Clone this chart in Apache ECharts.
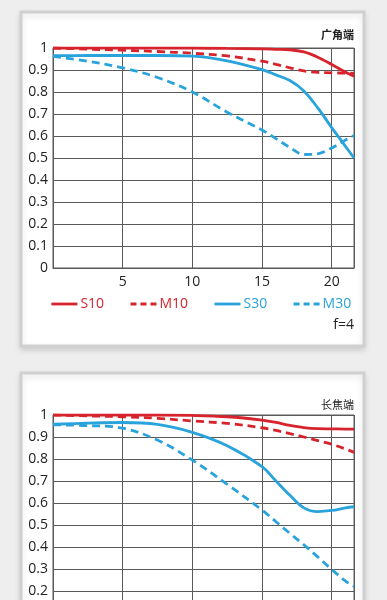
<!DOCTYPE html>
<html>
<head>
<meta charset="utf-8">
<script src="https://cdn.jsdelivr.net/npm/echarts@6/dist/echarts.min.js"></script>
<style>
html,body{margin:0;padding:0;overflow:hidden;background:#eeeeee;}
#c{width:387px;height:700px;}
</style>
</head>
<body>
<div id="c"></div>
<script>
// image height (mm) positions
var xPos = [0, 2.5, 5, 7.5, 10, 12.5, 15, 16, 17, 18, 19, 20, 21, 21.6];
// wide-angle end (广角端)
var wideS10 = [1.0, 1.0, 1.0, 1.0, 1.0, 0.998, 0.996, 0.994, 0.992, 0.982, 0.958, 0.925, 0.89, 0.872];
var wideM10 = [1.0, 0.995, 0.99, 0.984, 0.976, 0.964, 0.94, 0.926, 0.91, 0.896, 0.889, 0.887, 0.886, 0.885];
var wideS30 = [0.965, 0.966, 0.966, 0.966, 0.963, 0.942, 0.902, 0.878, 0.852, 0.805, 0.728, 0.638, 0.552, 0.5];
var wideM30 = [0.962, 0.94, 0.91, 0.866, 0.80, 0.708, 0.627, 0.588, 0.548, 0.516, 0.519, 0.545, 0.582, 0.602];
// telephoto end (长焦端)
var teleS10 = [1.0, 1.0, 1.0, 1.0, 0.998, 0.992, 0.977, 0.966, 0.953, 0.943, 0.938, 0.937, 0.936, 0.936];
var teleM10 = [1.0, 0.996, 0.992, 0.985, 0.973, 0.962, 0.942, 0.93, 0.915, 0.9, 0.884, 0.867, 0.845, 0.83];
var teleS30 = [0.958, 0.963, 0.966, 0.957, 0.921, 0.86, 0.765, 0.70, 0.635, 0.578, 0.561, 0.566, 0.578, 0.583];
var teleM30 = [0.955, 0.952, 0.94, 0.886, 0.795, 0.685, 0.568, 0.515, 0.462, 0.41, 0.355, 0.298, 0.245, 0.22];

var seriesNames = ['S10', 'M10', 'S30', 'M30'];
var xTickLabels = ['5', '10', '15', '20'];
var yTickLabels = ['0', '0.1', '0.2', '0.3', '0.4', '0.5', '0.6', '0.7', '0.8', '0.9', '1'];
var panelTitles = ['广角端', '长焦端'];
var apertureNote = 'f=4';

var RED = '#d7232c', BLUE = '#29a3dc';
var GRIDC = '#5a5a5a';
var FONT = '"Open Sans", "Noto Sans", sans-serif';

function pairs(ys){ return xPos.map(function(x,i){ return [x, ys[i]]; }); }

function xAxis(idx){
  return {
    type:'value', gridIndex:idx, min:0, max:21.6, interval:5,
    axisLine:{show:true, lineStyle:{color:GRIDC, width:1}},
    axisTick:{show:false},
    splitLine:{show:true, lineStyle:{color:GRIDC, width:1}},
    axisLabel:{
      color:'#222', fontSize:14, fontFamily:FONT, margin:7,
      formatter:function(v){
        var s = String(Math.round(v));
        return (Math.abs(v - Math.round(v)) < 1e-6 && xTickLabels.indexOf(s) >= 0) ? s : '';
      }
    }
  };
}
function yAxis(idx){
  return {
    type:'value', gridIndex:idx, min:0, max:1, interval:0.1,
    axisLine:{show:true, lineStyle:{color:GRIDC, width:1}},
    axisTick:{show:false},
    splitLine:{show:true, lineStyle:{color:GRIDC, width:1}},
    axisLabel:{
      color:'#222', fontSize:14, fontFamily:FONT, margin:5,
      formatter:function(v){ return yTickLabels[Math.round(v*10)]; }
    }
  };
}
function line(name, data, idx, color, dashed){
  return {
    name:name, type:'line', xAxisIndex:idx, yAxisIndex:idx,
    data:pairs(data), smooth:0.35, symbol:'none', silent:true,
    lineStyle:{color:color, width:2.8, type: dashed ? [8,5] : 'solid'},
    itemStyle:{color:color},
    z:5
  };
}

var chart = echarts.init(document.getElementById('c'), null, {renderer:'canvas'});
chart.setOption({
  animation:false,
  backgroundColor:'transparent',
  graphic:[
    {type:'rect', z:-10, shape:{x:21, y:12, width:343, height:334},
     style:{fill:'#ffffff', stroke:'#d0d0d0', lineWidth:3, shadowBlur:6, shadowColor:'rgba(0,0,0,0.12)', shadowOffsetY:3}},
    {type:'rect', z:-10, shape:{x:21, y:373, width:343, height:360},
     style:{fill:'#ffffff', stroke:'#d0d0d0', lineWidth:3, shadowBlur:6, shadowColor:'rgba(0,0,0,0.12)', shadowOffsetY:3}},
    {type:'text', right:33, top:318, style:{text:apertureNote, fill:'#222', font:'14px ' + FONT}}
  ],
  title:[
    {text:panelTitles[0], right:28, top:24, textStyle:{fontSize:11, fontWeight:'bold', color:'#222', fontFamily:'"Noto Sans CJK SC", sans-serif'}},
    {text:panelTitles[1], right:28, top:394, textStyle:{fontSize:11, fontWeight:'normal', color:'#222', fontFamily:'"Noto Sans CJK SC", sans-serif'}}
  ],
  legend:{
    left:45, top:292, itemWidth:26, itemHeight:14, itemGap:25,
    selectedMode:false,
    itemStyle:{opacity:0, color:'transparent', borderWidth:0},
    textStyle:{fontSize:14, fontFamily:FONT, padding:[0,0,0,-2]},
    data:[
      {name:seriesNames[0], textStyle:{color:RED}, lineStyle:{type:'solid', width:2.8}},
      {name:seriesNames[1], textStyle:{color:RED}, lineStyle:{type:[6,4], width:2.8}},
      {name:seriesNames[2], textStyle:{color:BLUE}, lineStyle:{type:'solid', width:2.8}},
      {name:seriesNames[3], textStyle:{color:BLUE}, lineStyle:{type:[6,4], width:2.8}}
    ]
  },
  grid:[
    {left:53, top:48, width:301, height:220, show:true, borderColor:GRIDC, borderWidth:1, containLabel:false},
    {left:53, top:415, width:301, height:220, show:true, borderColor:GRIDC, borderWidth:1, containLabel:false}
  ],
  xAxis:[xAxis(0), xAxis(1)],
  yAxis:[yAxis(0), yAxis(1)],
  series:[
    line(seriesNames[0], wideS10, 0, RED, false),
    line(seriesNames[1], wideM10, 0, RED, true),
    line(seriesNames[2], wideS30, 0, BLUE, false),
    line(seriesNames[3], wideM30, 0, BLUE, true),
    line(seriesNames[0], teleS10, 1, RED, false),
    line(seriesNames[1], teleM10, 1, RED, true),
    line(seriesNames[2], teleS30, 1, BLUE, false),
    line(seriesNames[3], teleM30, 1, BLUE, true)
  ]
});
</script>
</body>
</html>
